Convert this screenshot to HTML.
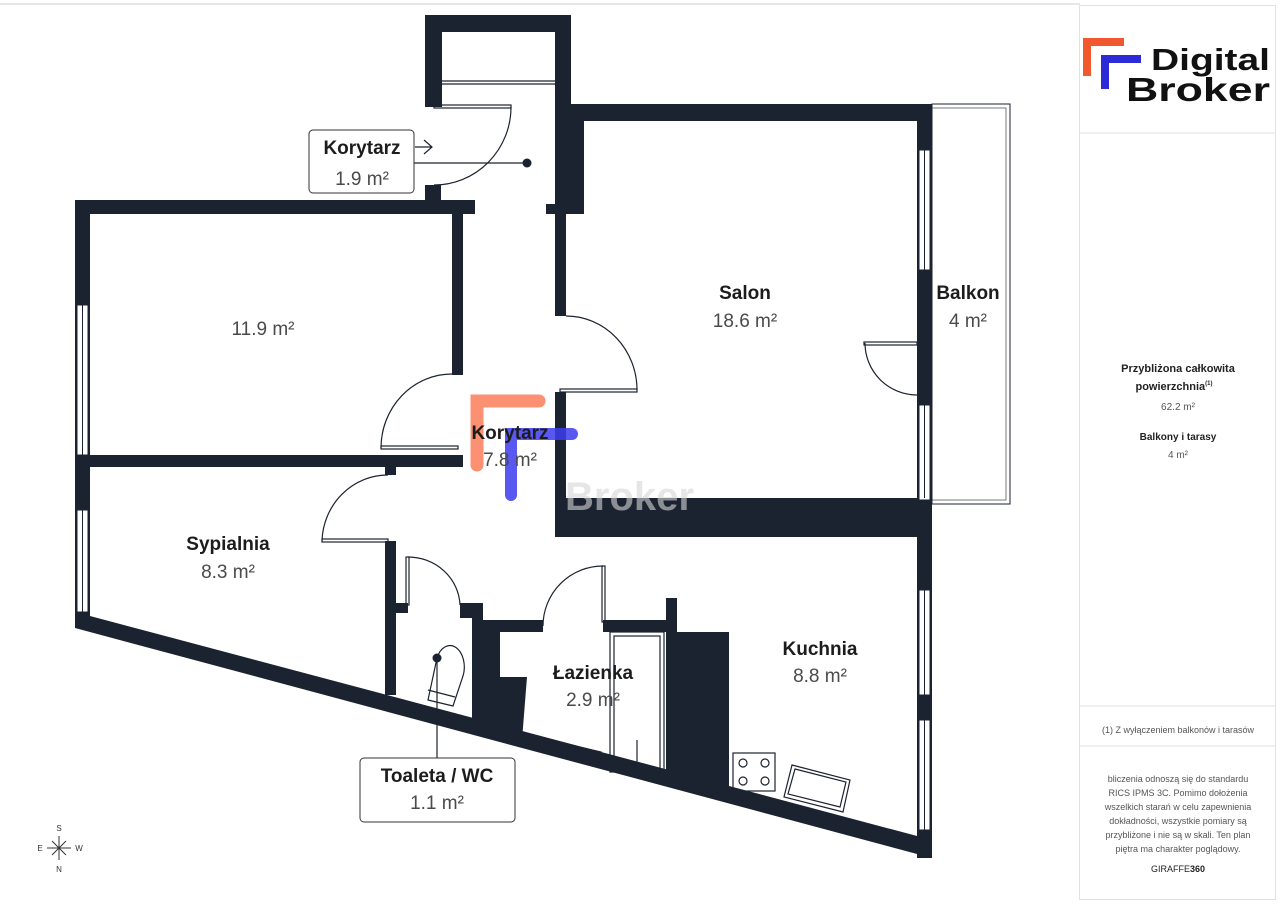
<!DOCTYPE html>
<html><head><meta charset="utf-8"><style>
html,body{margin:0;padding:0;background:#fff;}
body{width:1280px;height:905px;overflow:hidden;font-family:"Liberation Sans",sans-serif;}
</style></head><body>
<svg width="1280" height="905" viewBox="0 0 1280 905" xmlns="http://www.w3.org/2000/svg" font-family="Liberation Sans, sans-serif">
<rect x="0" y="0" width="1280" height="905" fill="#fff"/>
<line x1="0" y1="4" x2="1080" y2="4" stroke="#e6e6e6" stroke-width="2"/>
<g fill="#1c2330">
<rect x="425" y="15" width="146" height="17"/>
<rect x="425" y="15" width="17" height="92"/>
<rect x="555" y="15" width="16" height="199"/>
<rect x="555" y="104" width="377" height="17"/>
<rect x="555" y="104" width="29" height="110"/>
<rect x="546" y="204" width="20" height="10"/>
<rect x="555" y="204" width="11" height="112"/>
<rect x="555" y="392" width="11" height="145"/>
<rect x="555" y="498" width="377" height="39"/>
<rect x="917" y="104" width="15" height="754"/>
<rect x="425" y="185" width="16" height="15"/>
<rect x="75" y="200" width="400" height="14"/>
<rect x="452" y="200" width="11" height="175"/>
<rect x="75" y="200" width="15" height="428"/>
<rect x="75" y="455" width="388" height="12"/>
<rect x="385" y="455" width="11" height="20"/>
<rect x="385" y="541" width="11" height="154"/>
<rect x="396" y="603" width="12" height="10"/>
<rect x="460" y="603" width="23" height="15"/>
<rect x="472" y="603" width="11" height="120"/>
<rect x="483" y="620" width="60" height="12"/>
<polygon points="483,632 500,632 500,677 527,677 522,740 483,730"/>
<rect x="603" y="620" width="63" height="12"/>
<rect x="666" y="598" width="11" height="40"/>
<polygon points="666,632 729,632 729,790 666,772"/>
<polygon points="75,612 932,840 932,858 75,628"/>
</g>
<g fill="#fff" stroke="#1c2330" stroke-width="1">
<rect x="77" y="305" width="11" height="150"/><line x1="82.5" y1="305" x2="82.5" y2="455"/>
<rect x="77" y="510" width="11" height="102"/><line x1="82.5" y1="510" x2="82.5" y2="612"/>
<rect x="919" y="150" width="11" height="120"/><line x1="924.5" y1="150" x2="924.5" y2="270"/>
<rect x="919" y="405" width="11" height="95"/><line x1="924.5" y1="405" x2="924.5" y2="498"/>
<rect x="919" y="590" width="11" height="105"/><line x1="924.5" y1="590" x2="924.5" y2="695"/>
<rect x="919" y="720" width="11" height="110"/><line x1="924.5" y1="720" x2="924.5" y2="830"/>
</g>
<rect x="932" y="104" width="78" height="400" fill="none" stroke="#1c2330" stroke-width="1"/>
<rect x="932" y="108" width="74" height="392" fill="none" stroke="#1c2330" stroke-width="0.6"/>
<g fill="none" stroke="#1c2330" stroke-width="1.2">
<line x1="442" y1="81" x2="555" y2="81"/><line x1="442" y1="84" x2="555" y2="84"/>
<rect x="434" y="105" width="77" height="3"/>
<path d="M511,107 A77,78 0 0 1 434,185"/>
<line x1="414" y1="163" x2="527" y2="163"/>
<path d="M415,147 L432,147 M424,140 L432,147 L424,154"/>
<path d="M566,316 A71,74 0 0 1 637,390"/>
<rect x="560" y="389" width="77" height="3"/>
<path d="M452,374 A71,74 0 0 0 381,448"/>
<rect x="381" y="446" width="77" height="3"/>
<path d="M388,475 A66,68 0 0 0 322,541"/>
<rect x="322" y="539" width="66" height="3"/>
<rect x="406" y="557" width="3" height="48"/>
<path d="M408,557 A52,50 0 0 1 460,605"/>
<rect x="602" y="566" width="3" height="56"/>
<path d="M603,566 A60,60 0 0 0 543,626"/>
<rect x="864" y="342" width="53" height="3"/>
<path d="M865,343 A52,52 0 0 0 917,395"/>
<rect x="610" y="632" width="54" height="140"/>
<rect x="614" y="636" width="46" height="133"/>
<line x1="637" y1="740" x2="637" y2="762"/>
<path d="M437,658 L428,700 L453,706 L463,676 A12,18 0 0 0 437,658"/>
<line x1="428" y1="690" x2="455" y2="697"/>
<line x1="437" y1="660" x2="437" y2="758"/>
<rect x="733" y="753" width="42" height="38"/>
<circle cx="743" cy="763" r="4"/><circle cx="765" cy="763" r="4"/>
<circle cx="743" cy="781" r="4"/><circle cx="765" cy="781" r="4"/>
<polygon points="792,765 850,780 843,812 784,797"/>
<polygon points="795,769 846,782 840,807 788,794"/>
<polygon points="571,745 601,752 597,758 566,750"/>
</g>
<circle cx="527" cy="163" r="4.5" fill="#1c2330"/>
<circle cx="437" cy="658" r="4.5" fill="#1c2330"/>
<rect x="309" y="130" width="105" height="63" rx="4" fill="#fff" stroke="#333" stroke-width="1"/>
<rect x="360" y="758" width="155" height="64" rx="4" fill="#fff" stroke="#333" stroke-width="1"/>
<g opacity="0.85">
<path d="M477,465 L477,401 L539,401" fill="none" stroke="#fb7d5b" stroke-width="13" stroke-linecap="round"/>
<path d="M511,495 L511,434 L572,434" fill="none" stroke="#3d3df0" stroke-width="12" stroke-linecap="round"/>
</g>
<text x="565" y="510" font-size="40" font-weight="bold" fill="#d6d6d6" opacity="0.6">Broker</text>
<g text-anchor="middle" fill="#1c1c1c">
<g font-weight="bold" font-size="19">
<text x="362" y="154">Korytarz</text>
<text x="745" y="299">Salon</text>
<text x="968" y="299">Balkon</text>
<text x="228" y="550">Sypialnia</text>
<text x="510" y="439">Korytarz</text>
<text x="593" y="679">Łazienka</text>
<text x="820" y="655">Kuchnia</text>
<text x="437" y="782">Toaleta / WC</text>
</g>
<g font-size="19" fill="#4a4a4a">
<text x="362" y="185">1.9 m²</text>
<text x="745" y="327">18.6 m²</text>
<text x="968" y="327">4 m²</text>
<text x="263" y="335">11.9 m²</text>
<text x="228" y="578">8.3 m²</text>
<text x="510" y="466">7.8 m²</text>
<text x="593" y="706">2.9 m²</text>
<text x="820" y="682">8.8 m²</text>
<text x="437" y="809">1.1 m²</text>
</g>
</g>
<g stroke="#333" stroke-width="1" fill="none">
<line x1="59" y1="836" x2="59" y2="860"/><line x1="47" y1="848" x2="71" y2="848"/>
<line x1="52" y1="841" x2="66" y2="855"/><line x1="66" y1="841" x2="52" y2="855"/>
</g>
<g font-size="8" fill="#333" text-anchor="middle">
<text x="59" y="831">S</text><text x="59" y="872">N</text><text x="40" y="851">E</text><text x="79" y="851">W</text>
</g>
<rect x="1079.5" y="5.5" width="196" height="894" fill="#fff" stroke="#e2e2e2"/>
<line x1="1080" y1="133" x2="1275" y2="133" stroke="#e2e2e2"/>
<line x1="1080" y1="706" x2="1275" y2="706" stroke="#e2e2e2"/>
<line x1="1080" y1="746" x2="1275" y2="746" stroke="#e2e2e2"/>
<path d="M1087,76 L1087,42 L1124,42" fill="none" stroke="#f1582e" stroke-width="8"/>
<path d="M1105,89 L1105,59 L1141,59" fill="none" stroke="#2b2bd8" stroke-width="8"/>
<text x="1151" y="70" font-size="31" font-weight="bold" fill="#111" textLength="119" lengthAdjust="spacingAndGlyphs">Digital</text>
<text x="1126" y="101" font-size="33" font-weight="bold" fill="#111" textLength="144" lengthAdjust="spacingAndGlyphs">Broker</text>
<g text-anchor="middle" fill="#222">
<text x="1178" y="372" font-size="11" font-weight="bold">Przybliżona całkowita</text>
<text x="1174" y="390" font-size="11" font-weight="bold">powierzchnia<tspan font-size="6" dy="-5">(1)</tspan></text>
<text x="1178" y="410" font-size="10" fill="#555">62.2 m²</text>
<text x="1178" y="440" font-size="10" font-weight="bold">Balkony i tarasy</text>
<text x="1178" y="458" font-size="10" fill="#555">4 m²</text>
<text x="1178" y="733" font-size="9" fill="#555">(1) Z wyłączeniem balkonów i tarasów</text>
<g font-size="9" fill="#555">
<text x="1178" y="782">bliczenia odnoszą się do standardu</text>
<text x="1178" y="796">RICS IPMS 3C. Pomimo dołożenia</text>
<text x="1178" y="810">wszelkich starań w celu zapewnienia</text>
<text x="1178" y="824">dokładności, wszystkie pomiary są</text>
<text x="1178" y="838">przybliżone i nie są w skali. Ten plan</text>
<text x="1178" y="852">piętra ma charakter poglądowy.</text>
</g>
<text x="1178" y="872" font-size="9" fill="#222">GIRAFFE<tspan font-weight="bold">360</tspan></text>
</g>
</svg>
</body></html>
